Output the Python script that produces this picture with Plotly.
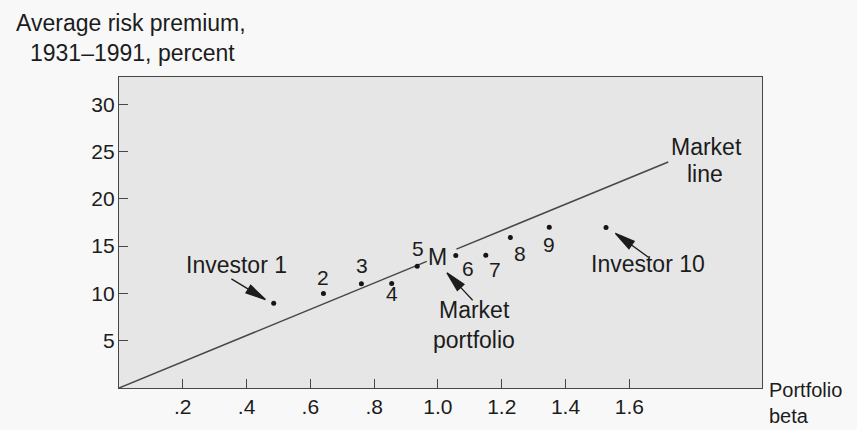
import math
import numpy as np
import plotly.graph_objects as go

# ---------------- data ----------------
PORTFOLIO_LABELS = ["Investor 1", "2", "3", "4", "5", "6", "7", "8", "9", "Investor 10"]
PORTFOLIO_BETA = [0.485, 0.641, 0.760, 0.855, 0.935, 1.056, 1.150, 1.227, 1.349, 1.527]
PORTFOLIO_PREMIUM = [8.96, 9.98, 11.03, 11.04, 12.86, 14.02, 14.03, 15.90, 17.00, 16.96]

MARKET_LABEL = "M"
MARKET_BETA = 1.0
MARKET_PREMIUM = 13.9

MARKET_LINE_BETA = [0.0, 1.722]
MARKET_LINE_PREMIUM = [0.0, 23.9]

X_TICK_VALUES = [0.2, 0.4, 0.6, 0.8, 1.0, 1.2, 1.4, 1.6]
X_TICK_LABELS = [".2", ".4", ".6", ".8", "1.0", "1.2", "1.4", "1.6"]
Y_TICK_VALUES = [5, 10, 15, 20, 25, 30]
Y_TICK_LABELS = ["5", "10", "15", "20", "25", "30"]

Y_TITLE_LINES = ["Average risk premium,", "1931\u20131991, percent"]
X_TITLE_LINES = ["Portfolio", "beta"]
MARKET_LINE_TEXT = ["Market", "line"]
MARKET_PORTFOLIO_TEXT = ["Market", "portfolio"]

# ---------------- layout / style ----------------
W, H = 857, 430
L, R, T, B = 119, 95, 77, 39
PW, PH = W - L - R, H - T - B
X_RANGE = [0, 2.016]
Y_RANGE = [0, 32.88]

FONT = "Liberation Sans, Arial, Helvetica, sans-serif"
TEXT_COLOR = "#1c1c1c"
LINE_COLOR = "#474747"
TEXT_SIZE = 23
DIGIT_SIZE = 21
X_TITLE_SIZE = 20

# label offsets from their point, pixels (right, down)
LABEL_OFFSETS = {
    "Investor 1": (-37.5, -38.7),
    "2": (0, -16), "3": (1, -18), "4": (0, 10), "5": (1, -18),
    "6": (12.4, 13), "7": (9.4, 14), "8": (9.4, 16), "9": (0, 17),
    "Investor 10": (42, 36.5),
}
MARKET_LINE_GAP = (0.965, 1.058)  # gap in the line around the "M" label


def page(xpx, ypx):
    return (xpx - L) / PW, (H - B - ypx) / PH


def arrow_path(tail, tip, head_len=20, half_w=4.5):
    tx, ty = tail[0], -tail[1]
    hx, hy = tip[0], -tip[1]
    dx, dy = hx - tx, hy - ty
    n = math.hypot(dx, dy)
    ux, uy = dx / n, dy / n
    bx, by = hx - ux * head_len, hy - uy * head_len
    px, py = -uy, ux
    return (f"M{tx:.1f},{ty:.1f}L{bx:.1f},{by:.1f}"
            f"M{hx:.1f},{hy:.1f}L{bx + px * half_w:.1f},{by + py * half_w:.1f}"
            f"L{bx - px * half_w:.1f},{by - py * half_w:.1f}Z")


fig = go.Figure()

# market line, interrupted around the M label
g0 = float(np.interp(MARKET_LINE_GAP[0], MARKET_LINE_BETA, MARKET_LINE_PREMIUM))
g1 = float(np.interp(MARKET_LINE_GAP[1], MARKET_LINE_BETA, MARKET_LINE_PREMIUM))
fig.add_trace(go.Scatter(
    x=[MARKET_LINE_BETA[0], MARKET_LINE_GAP[0], None, MARKET_LINE_GAP[1], MARKET_LINE_BETA[1]],
    y=[MARKET_LINE_PREMIUM[0], g0, None, g1, MARKET_LINE_PREMIUM[1]],
    mode="lines", line=dict(color=LINE_COLOR, width=1.5),
    hoverinfo="skip", showlegend=False))

fig.add_trace(go.Scatter(
    x=PORTFOLIO_BETA, y=PORTFOLIO_PREMIUM, mode="markers",
    marker=dict(size=5, color="#151515"),
    text=PORTFOLIO_LABELS, showlegend=False))

ann = []
for lab, bx, py in zip(PORTFOLIO_LABELS, PORTFOLIO_BETA, PORTFOLIO_PREMIUM):
    dx, dy = LABEL_OFFSETS[lab]
    ann.append(dict(x=bx, y=py, xref="x", yref="y", text=lab, showarrow=False,
                    xshift=dx, yshift=-dy, xanchor="center", yanchor="middle",
                    font=dict(size=TEXT_SIZE if len(lab) > 1 else DIGIT_SIZE)))

ann.append(dict(x=MARKET_BETA, y=MARKET_PREMIUM, xref="x", yref="y", text=MARKET_LABEL,
                showarrow=False, xshift=0, yshift=0, font=dict(size=TEXT_SIZE)))
for txt, (dx, dy) in zip(MARKET_PORTFOLIO_TEXT, [(37, 53.5), (36.5, 83)]):
    ann.append(dict(x=MARKET_BETA, y=MARKET_PREMIUM, xref="x", yref="y", text=txt,
                    showarrow=False, xshift=dx, yshift=-dy, font=dict(size=TEXT_SIZE)))
for txt, (dx, dy) in zip(MARKET_LINE_TEXT, [(38, -15), (37, 12)]):
    ann.append(dict(x=MARKET_LINE_BETA[1], y=MARKET_LINE_PREMIUM[1], xref="x", yref="y",
                    text=txt, showarrow=False, xshift=dx, yshift=-dy,
                    font=dict(size=TEXT_SIZE)))

for txt, (xp, yp) in zip(Y_TITLE_LINES, [(131, 22), (132, 53)]):
    px_, py_ = page(xp, yp)
    ann.append(dict(x=px_, y=py_, xref="paper", yref="paper", text=txt, showarrow=False,
                    xanchor="center", yanchor="middle", font=dict(size=TEXT_SIZE)))
for txt, (xp, yp) in zip(X_TITLE_LINES, [(767, 393), (767, 419)]):
    px_, py_ = page(xp, yp)
    ann.append(dict(x=px_, y=py_, xref="paper", yref="paper", text=txt, showarrow=False,
                    xanchor="left", yanchor="middle", font=dict(size=X_TITLE_SIZE)))

# arrows (pixel offsets from an anchor point: right, down)
shapes = []
arrow_specs = [
    (PORTFOLIO_BETA[0], PORTFOLIO_PREMIUM[0], (-42.3, -24.4), (-8.3, -3.7)),
    (PORTFOLIO_BETA[-1], PORTFOLIO_PREMIUM[-1], (42, 29.4), (9.3, 5.7)),
    (MARKET_BETA, MARKET_PREMIUM, (34.7, 43.7), (9, 16.3)),
]
for xa, ya, tail, tip in arrow_specs:
    shapes.append(dict(type="path", xref="x", yref="y", xsizemode="pixel", ysizemode="pixel",
                       xanchor=xa, yanchor=ya, path=arrow_path(tail, tip),
                       line=dict(color="#1c1c1c", width=1.3), fillcolor="#1c1c1c"))

axis_common = dict(showgrid=False, zeroline=False, showline=True, mirror=True,
                   linecolor=LINE_COLOR, linewidth=1.4, ticks="inside", ticklen=9,
                   tickwidth=1.2, tickcolor=LINE_COLOR,
                   tickfont=dict(size=DIGIT_SIZE, color=TEXT_COLOR, family=FONT))

fig.update_layout(
    width=W, height=H,
    margin=dict(l=L, r=R, t=T, b=B, pad=0),
    paper_bgcolor="#f8f8f8", plot_bgcolor="#e6e6e6",
    font=dict(family=FONT, color=TEXT_COLOR, size=TEXT_SIZE),
    xaxis=dict(range=X_RANGE, tickvals=X_TICK_VALUES, ticktext=X_TICK_LABELS, **axis_common),
    yaxis=dict(range=Y_RANGE, tickvals=Y_TICK_VALUES, ticktext=Y_TICK_LABELS,
               ticklabelstandoff=-1, **axis_common),
    annotations=ann, shapes=shapes, showlegend=False,
)

fig.write_html("out.html", config={"displayModeBar": False},
               post_script="document.body.style.margin='0px';document.body.style.background='#f8f8f8';")
